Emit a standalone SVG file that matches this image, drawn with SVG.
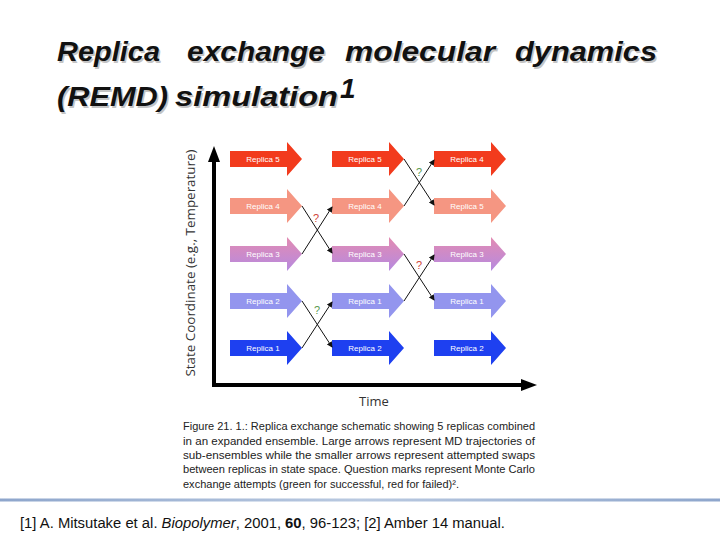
<svg xmlns="http://www.w3.org/2000/svg" width="720" height="540" viewBox="0 0 720 540">
<defs>
<style>
.title{font-family:"Liberation Sans",Arial,sans-serif;font-weight:bold;font-style:italic;font-size:28px;fill:#111}
.shadow{fill:#c4c4c4}
.rep{font-family:"Liberation Sans",Arial,sans-serif;font-size:8px;fill:#fff;text-anchor:middle}
.cap{font-family:"Liberation Sans",Arial,sans-serif;font-size:10.5px;fill:#222}
.foot{font-family:"Liberation Sans",Arial,sans-serif;font-size:14px;fill:#111}
.ax{font-family:"Open Sans","Liberation Sans",sans-serif;font-size:13px;fill:#333}
.sw{stroke:#111;stroke-width:1;fill:none;marker-end:url(#sm)}
.q{font-family:"Liberation Sans",Arial,sans-serif;font-size:11px;text-anchor:middle}
</style>
<linearGradient id="g3" x1="0" y1="0" x2="0" y2="1">
<stop offset="0" stop-color="#e38bb2"/>
<stop offset="1" stop-color="#b68ae0"/>
</linearGradient>
<linearGradient id="sep" x1="0" y1="0" x2="1" y2="0">
<stop offset="0" stop-color="#8ea6cc"/>
<stop offset="0.5" stop-color="#b9c9e0"/>
<stop offset="1" stop-color="#8ea6cc"/>
</linearGradient>
<path id="arr" d="M0,-8 H57 V-17 L72,0 L57,17 V8 H0 Z"/>
<marker id="sm" markerWidth="6" markerHeight="6" refX="5" refY="3" orient="auto" markerUnits="userSpaceOnUse">
<path d="M0,0 L6,3 L0,6 Z" fill="#111"/>
</marker>
</defs>
<rect width="720" height="540" fill="#fff"/>

<g id="title">
<g class="title shadow" transform="translate(1.5,1.5)">
<text x="57" y="61" textLength="103" lengthAdjust="spacingAndGlyphs">Replica</text>
<text x="187" y="61" textLength="138" lengthAdjust="spacingAndGlyphs">exchange</text>
<text x="345" y="61" textLength="150" lengthAdjust="spacingAndGlyphs">molecular</text>
<text x="515" y="61" textLength="142" lengthAdjust="spacingAndGlyphs">dynamics</text>
<text x="57" y="106" textLength="111" lengthAdjust="spacingAndGlyphs">(REMD)</text>
<text x="175" y="106" textLength="163" lengthAdjust="spacingAndGlyphs">simulation</text>
</g>
<text class="title" x="57" y="61" textLength="103" lengthAdjust="spacingAndGlyphs">Replica</text>
<text class="title" x="187" y="61" textLength="138" lengthAdjust="spacingAndGlyphs">exchange</text>
<text class="title" x="345" y="61" textLength="150" lengthAdjust="spacingAndGlyphs">molecular</text>
<text class="title" x="515" y="61" textLength="142" lengthAdjust="spacingAndGlyphs">dynamics</text>
<text class="title" x="57" y="106" textLength="111" lengthAdjust="spacingAndGlyphs">(REMD)</text>
<text class="title" x="175" y="106" textLength="163" lengthAdjust="spacingAndGlyphs">simulation</text>
<text class="title" x="340" y="98" font-size="14px">1</text>
</g>

<g id="axes">
<line x1="214" y1="387" x2="214" y2="160" stroke="#000" stroke-width="4"/>
<path d="M214,146 L220,162 L208,162 Z" fill="#000"/>
<line x1="212" y1="385" x2="522" y2="385" stroke="#000" stroke-width="4"/>
<path d="M537,385 L521,379 L521,391 Z" fill="#000"/>
<text class="ax" transform="translate(195,263) rotate(-90)" text-anchor="middle" textLength="227" lengthAdjust="spacingAndGlyphs">State Coordinate (e.g., Temperature)</text>
<text class="ax" x="374" y="406" text-anchor="middle" font-size="14px">Time</text>
</g>

<g id="col1">
<g id="c1r5"><use href="#arr" x="230" y="159" fill="#f23b1d"/><text class="rep" x="263" y="162">Replica 5</text></g>
<g id="c1r4"><use href="#arr" x="230" y="206" fill="#f59682"/><text class="rep" x="263" y="209">Replica 4</text></g>
<g id="c1r3"><use href="#arr" x="230" y="254" fill="url(#g3)"/><text class="rep" x="263" y="257">Replica 3</text></g>
<g id="c1r2"><use href="#arr" x="230" y="301" fill="#9395ee"/><text class="rep" x="263" y="304">Replica 2</text></g>
<g id="c1r1"><use href="#arr" x="230" y="348" fill="#1e40f0"/><text class="rep" x="263" y="351">Replica 1</text></g>
</g>
<g id="col2">
<g id="c2r5"><use href="#arr" x="332" y="159" fill="#f23b1d"/><text class="rep" x="365" y="162">Replica 5</text></g>
<g id="c2r4"><use href="#arr" x="332" y="206" fill="#f59682"/><text class="rep" x="365" y="209">Replica 4</text></g>
<g id="c2r3"><use href="#arr" x="332" y="254" fill="url(#g3)"/><text class="rep" x="365" y="257">Replica 3</text></g>
<g id="c2r2"><use href="#arr" x="332" y="301" fill="#9395ee"/><text class="rep" x="365" y="304">Replica 1</text></g>
<g id="c2r1"><use href="#arr" x="332" y="348" fill="#1e40f0"/><text class="rep" x="365" y="351">Replica 2</text></g>
</g>
<g id="col3">
<g id="c3r5"><use href="#arr" x="434" y="159" fill="#f23b1d"/><text class="rep" x="467" y="162">Replica 4</text></g>
<g id="c3r4"><use href="#arr" x="434" y="206" fill="#f59682"/><text class="rep" x="467" y="209">Replica 5</text></g>
<g id="c3r3"><use href="#arr" x="434" y="254" fill="url(#g3)"/><text class="rep" x="467" y="257">Replica 3</text></g>
<g id="c3r2"><use href="#arr" x="434" y="301" fill="#9395ee"/><text class="rep" x="467" y="304">Replica 1</text></g>
<g id="c3r1"><use href="#arr" x="434" y="348" fill="#1e40f0"/><text class="rep" x="467" y="351">Replica 2</text></g>
</g>

<g id="connectors">
<line class="sw" x1="302" y1="206" x2="332" y2="253"/>
<line class="sw" x1="302" y1="254" x2="332" y2="207"/>
<line class="sw" x1="302" y1="301" x2="332" y2="347"/>
<line class="sw" x1="302" y1="348" x2="332" y2="302"/>
<line class="sw" x1="404" y1="159" x2="434" y2="205"/>
<line class="sw" x1="404" y1="206" x2="434" y2="160"/>
<line class="sw" x1="404" y1="254" x2="434" y2="300"/>
<line class="sw" x1="404" y1="301" x2="434" y2="255"/>
<text class="q" x="316" y="222" fill="#d0443a">?</text>
<text class="q" x="317" y="314" fill="#5a9a50">?</text>
<text class="q" x="419" y="176" fill="#5a9a50">?</text>
<text class="q" x="419" y="269" fill="#d0443a">?</text>
</g>

<g id="caption">
<text class="cap" x="183" y="430" textLength="352" lengthAdjust="spacingAndGlyphs">Figure 21. 1.: Replica exchange schematic showing 5 replicas combined</text>
<text class="cap" x="183" y="444.5" textLength="352" lengthAdjust="spacingAndGlyphs">in an expanded ensemble. Large arrows represent MD trajectories of</text>
<text class="cap" x="183" y="459" textLength="352" lengthAdjust="spacingAndGlyphs">sub-ensembles while the smaller arrows represent attempted swaps</text>
<text class="cap" x="183" y="473" textLength="352" lengthAdjust="spacingAndGlyphs">between replicas in state space. Question marks represent Monte Carlo</text>
<text class="cap" x="183" y="487.5" textLength="276" lengthAdjust="spacingAndGlyphs">exchange attempts (green for successful, red for failed)².</text>
</g>

<rect x="0" y="498.5" width="720" height="3" fill="url(#sep)"/>
<g id="footer">
<text class="foot" x="20" y="528" textLength="485" lengthAdjust="spacingAndGlyphs">[1] A. Mitsutake et al. <tspan font-style="italic">Biopolymer</tspan>, 2001, <tspan font-weight="bold">60</tspan>, 96-123; [2] Amber 14 manual.</text>
</g>
</svg>
